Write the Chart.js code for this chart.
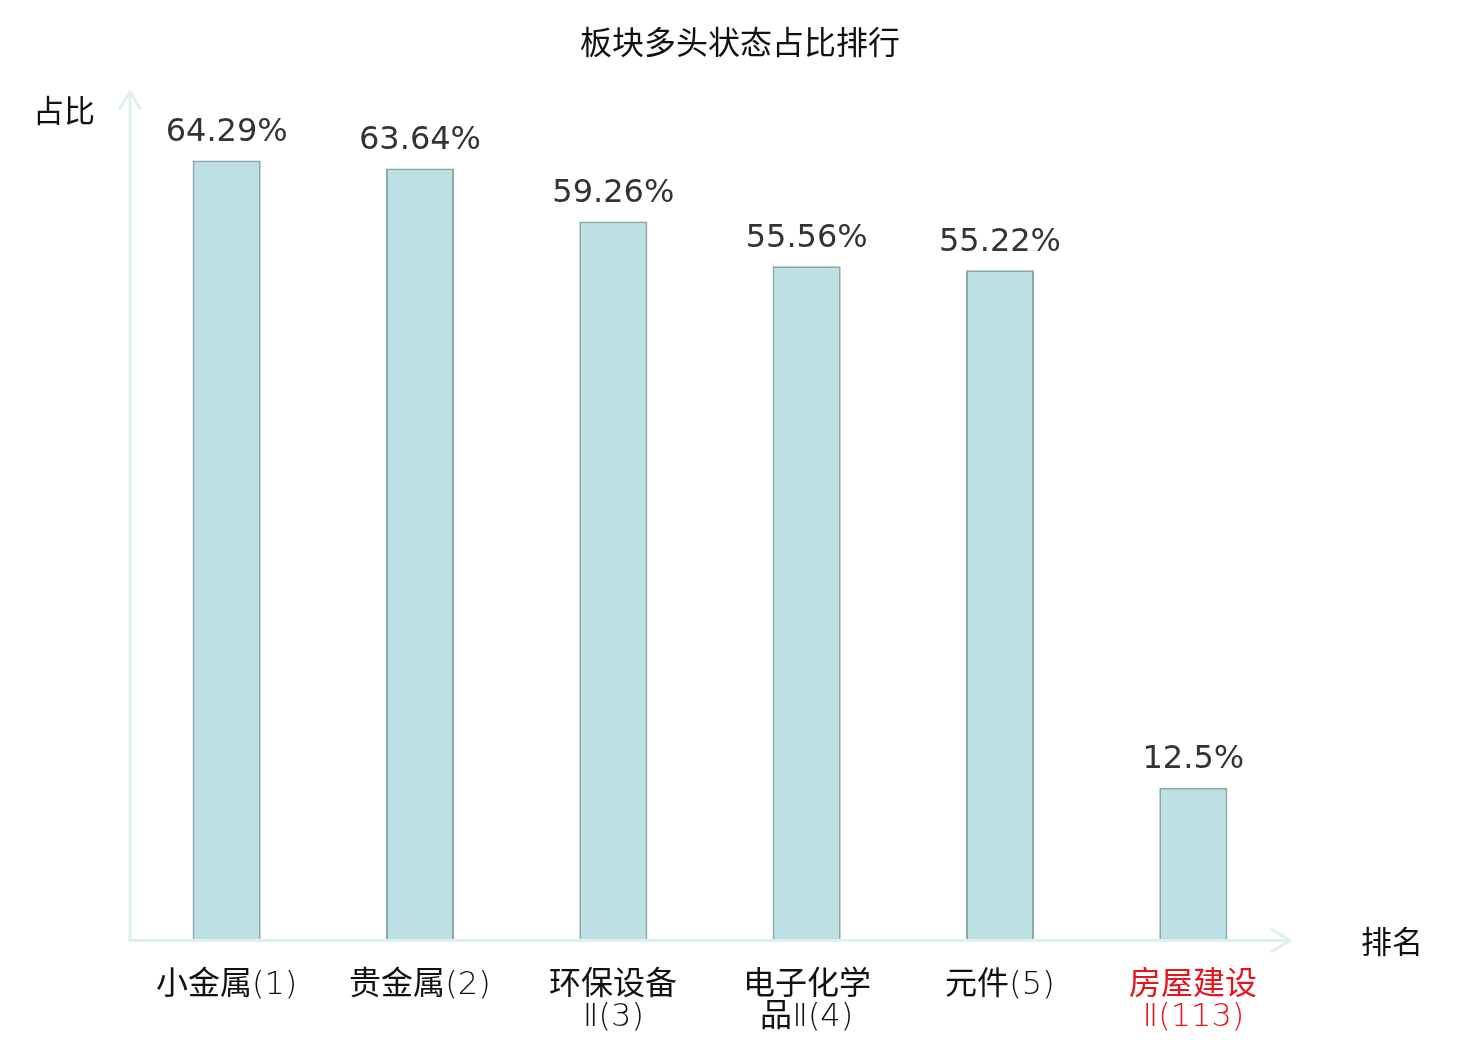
<!DOCTYPE html>
<html>
<head>
<meta charset="utf-8">
<script src="https://cdn.jsdelivr.net/npm/chart.js@4"></script>
<style>
  html, body { margin: 0; padding: 0; background: #ffffff; }
  #wrap { width: 1480px; height: 1040px; }
  @font-face {
    font-family: 'CJKReg';
    src: local('NotoSansCJKsc-Regular'), local('Noto Sans CJK SC Regular'), local('Noto Sans CJK SC');
    font-weight: 100 900;
  }
</style>
</head>
<body>
<div id="wrap"><canvas id="c" width="1480" height="1040"></canvas></div>
<script>
const chartTitle = '板块多头状态占比排行';
const categories = [
  ['小金属(1)'],
  ['贵金属(2)'],
  ['环保设备', 'Ⅱ(3)'],
  ['电子化学', '品Ⅱ(4)'],
  ['元件(5)'],
  ['房屋建设', 'Ⅱ(113)']
];
const shares = [64.29, 63.64, 59.26, 55.56, 55.22, 12.5];
const highlighted = [false, false, false, false, false, true];
const yAxisTitle = '占比';
const xAxisTitle = '排名';

const CJK = '"Noto Sans CJK SC", "DejaVu Sans", sans-serif';
const TICKFONT = '"DejaVu Sans", CJKReg, "Noto Sans CJK SC", sans-serif';
const LATIN = '"DejaVu Sans", "Noto Sans CJK SC", sans-serif';
const AXIS_COLOR = '#ddf1ee';

const decorPlugin = {
  id: 'decor',
  beforeDatasetsDraw(chart) {
    const { ctx, chartArea: a } = chart;
    const base = a.bottom + 1.5;
    ctx.save();
    ctx.strokeStyle = AXIS_COLOR;
    ctx.lineWidth = 3;
    ctx.lineCap = 'round';
    ctx.lineJoin = 'round';
    ctx.beginPath();
    ctx.moveTo(a.left, base);
    ctx.lineTo(a.left, a.top);
    ctx.moveTo(a.left - 10, a.top + 17);
    ctx.lineTo(a.left, a.top);
    ctx.lineTo(a.left + 10, a.top + 17);
    ctx.stroke();
    ctx.beginPath();
    ctx.moveTo(a.left, base);
    ctx.lineTo(a.right, base);
    ctx.moveTo(a.right - 18, base - 11);
    ctx.lineTo(a.right, base);
    ctx.lineTo(a.right - 18, base + 11);
    ctx.stroke();
    ctx.restore();
  },
  afterDatasetsDraw(chart) {
    const { ctx, chartArea: a } = chart;
    const meta = chart.getDatasetMeta(0);
    ctx.save();
    ctx.fillStyle = '#333333';
    ctx.font = '32px ' + LATIN;
    ctx.textAlign = 'center';
    ctx.textBaseline = 'middle';
    meta.data.forEach((bar, i) => {
      ctx.fillText(shares[i] + '%', bar.x, bar.y - 28);
    });
    ctx.fillStyle = '#111111';
    ctx.font = '31px ' + CJK;
    ctx.fillText(yAxisTitle, a.left - 66, a.top + 19);
    ctx.fillText(xAxisTitle, a.right + 102, a.bottom + 2);
    ctx.restore();
  }
};

function build() {
  new Chart(document.getElementById('c'), {
    type: 'bar',
    data: {
      labels: categories,
      datasets: [{
        data: shares,
        backgroundColor: '#bce0e3',
        borderColor: '#8aa7a9',
        borderWidth: 2,
        categoryPercentage: 1.0,
        barPercentage: 0.352
      }]
    },
    options: {
      responsive: false,
      animation: false,
      devicePixelRatio: 1,
      layout: { padding: { left: 0, right: 0, top: 0, bottom: -25 } },
      plugins: {
        legend: { display: false },
        tooltip: { enabled: false },
        title: {
          display: true,
          text: chartTitle,
          color: '#111111',
          font: { family: CJK, size: 32, weight: 'normal', lineHeight: 1.2 },
          padding: { top: 23, bottom: 30 }
        }
      },
      scales: {
        x: {
          grid: { display: false, drawTicks: false },
          border: { display: false },
          ticks: {
            padding: 31,
            autoSkip: false,
            maxRotation: 0,
            color: (c) => highlighted[c.index] ? '#e8141c' : '#111111',
            font: { family: TICKFONT, size: 32, weight: 200, lineHeight: 1.0 }
          }
        },
        y: {
          position: 'left',
          min: 0,
          max: 70,
          grid: { display: false, drawTicks: false },
          border: { display: false },
          ticks: { display: false },
          afterFit: (s) => { s.width = 130; }
        },
        yRight: {
          position: 'right',
          min: 0,
          max: 70,
          grid: { display: false, drawTicks: false },
          border: { display: false },
          ticks: { display: false },
          afterFit: (s) => { s.width = 190; }
        }
      }
    },
    plugins: [decorPlugin]
  });
}

let built = false;
function once() { if (!built) { built = true; build(); } }
Promise.all([
  document.fonts.load('200 32px CJKReg', '小金属贵元件房屋建设环保设备电子化学品'),
  document.fonts.load('200 32px "DejaVu Sans"', '(1)Ⅱ')
]).then(once, once);
setTimeout(once, 1500);
</script>
</body>
</html>
